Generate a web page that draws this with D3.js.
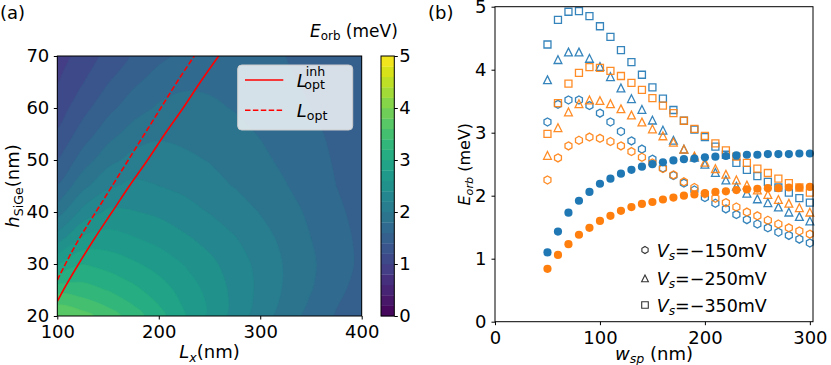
<!DOCTYPE html>
<html>
<head>
<meta charset="utf-8">
<script src="https://cdn.jsdelivr.net/npm/d3@7"></script>
<style>
body { margin: 0; background: #fff; }
svg text { font-family: "DejaVu Sans", sans-serif; fill: #000; }
</style>
</head>
<body>
<svg id="fig" width="831" height="365"></svg>
<script>
// ---------- panel (a): Eorb map (meV), rows = hSiGe, columns = Lx ----------
var lxGrid = [100, 125, 150, 175, 200, 225, 250, 275, 300, 325, 350, 375, 400];
var hGrid = [20, 25, 30, 35, 40, 45, 50, 55, 60, 65, 70];
var eorbGrid = [
  [3.80, 3.68, 3.50, 3.30, 3.07, 2.82, 2.56, 2.32, 2.10, 1.90, 1.73, 1.58, 1.45],
  [3.32, 3.28, 3.19, 3.05, 2.90, 2.72, 2.54, 2.34, 2.15, 1.97, 1.81, 1.65, 1.52],
  [2.78, 3.00, 2.92, 2.83, 2.72, 2.59, 2.45, 2.30, 2.14, 1.98, 1.83, 1.69, 1.56],
  [2.29, 2.63, 2.68, 2.61, 2.53, 2.43, 2.33, 2.21, 2.08, 1.94, 1.80, 1.68, 1.55],
  [1.90, 2.26, 2.44, 2.41, 2.36, 2.28, 2.19, 2.10, 1.99, 1.88, 1.76, 1.64, 1.53],
  [1.61, 1.94, 2.17, 2.25, 2.20, 2.15, 2.07, 1.99, 1.91, 1.81, 1.71, 1.60, 1.50],
  [1.39, 1.69, 1.93, 2.07, 2.08, 2.04, 1.99, 1.92, 1.84, 1.76, 1.67, 1.58, 1.48],
  [1.23, 1.49, 1.72, 1.89, 1.97, 1.95, 1.91, 1.85, 1.79, 1.72, 1.64, 1.56, 1.47],
  [1.09, 1.33, 1.54, 1.71, 1.83, 1.87, 1.83, 1.79, 1.73, 1.67, 1.60, 1.53, 1.45],
  [0.99, 1.19, 1.39, 1.56, 1.69, 1.76, 1.77, 1.73, 1.69, 1.63, 1.57, 1.51, 1.43],
  [0.90, 1.08, 1.26, 1.42, 1.55, 1.65, 1.70, 1.68, 1.64, 1.60, 1.54, 1.48, 1.42]
];
var levelStep = 0.2;
var levelMax = 5;

// optimal Lx curves
var optInhH  = [22.8, 25, 30, 35, 40, 45, 50, 55, 60, 65, 70];
var optInhLx = [100, 106, 121, 137, 154, 171, 189, 206, 224, 241, 259];
var optH  = [26.9, 30, 35, 40, 45, 50, 55, 60, 65, 70];
var optLx = [100, 108, 122, 138, 154, 170, 186, 202, 218, 235];

var lxTicks = [100, 200, 300, 400];
var hTicks = [20, 30, 40, 50, 60, 70];
var cbTicks = [0, 1, 2, 3, 4, 5];

// ---------- panel (b): Eorb vs wsp ----------
var wsp = [50, 60, 70, 80, 90, 100, 110, 120, 130, 140, 150, 160, 170, 180, 190,
           200, 210, 220, 230, 240, 250, 260, 270, 280, 290, 300];
var blueFilled   = [1.10, 1.43, 1.73, 1.92, 2.06, 2.19, 2.27, 2.35, 2.41, 2.46, 2.50, 2.53, 2.56, 2.58, 2.59,
                    2.61, 2.62, 2.63, 2.64, 2.65, 2.65, 2.66, 2.66, 2.66, 2.67, 2.67];
var orangeFilled = [0.84, 1.06, 1.23, 1.38, 1.49, 1.60, 1.68, 1.76, 1.82, 1.87, 1.90, 1.94, 1.97, 2.00, 2.02,
                    2.04, 2.06, 2.07, 2.09, 2.10, 2.11, 2.12, 2.12, 2.13, 2.13, 2.14];
var blue150   = [3.17, 3.45, 3.52, 3.52, 3.43, 3.31, 3.17, 3.02, 2.87, 2.74, 2.58, 2.44, 2.32, 2.20, 2.09,
                 1.97, 1.88, 1.79, 1.70, 1.62, 1.55, 1.49, 1.42, 1.37, 1.31, 1.25];
var orange150 = [2.25, 2.60, 2.79, 2.88, 2.93, 2.91, 2.86, 2.79, 2.70, 2.61, 2.52, 2.43, 2.33, 2.22, 2.13,
                 2.03, 1.96, 1.89, 1.82, 1.74, 1.68, 1.61, 1.55, 1.49, 1.44, 1.39];
var blue250   = [3.84, 4.16, 4.28, 4.28, 4.18, 4.05, 3.89, 3.71, 3.54, 3.37, 3.20, 3.04, 2.88, 2.74, 2.61,
                 2.50, 2.37, 2.25, 2.15, 2.04, 1.95, 1.89, 1.82, 1.74, 1.67, 1.60];
var orange250 = [2.64, 3.08, 3.33, 3.46, 3.52, 3.51, 3.46, 3.38, 3.28, 3.17, 3.06, 2.95, 2.85, 2.74, 2.63,
                 2.53, 2.43, 2.34, 2.25, 2.17, 2.09, 2.02, 1.94, 1.88, 1.81, 1.74];
var blue350   = [4.40, 4.79, 4.92, 4.93, 4.85, 4.69, 4.52, 4.31, 4.12, 3.92, 3.72, 3.54, 3.36, 3.19, 3.05,
                 2.93, 2.78, 2.65, 2.52, 2.41, 2.31, 2.22, 2.13, 2.05, 1.96, 1.89];
var orange350 = [2.98, 3.47, 3.78, 3.95, 4.04, 4.03, 3.98, 3.90, 3.79, 3.68, 3.55, 3.43, 3.31, 3.19, 3.06,
                 2.95, 2.83, 2.72, 2.62, 2.52, 2.43, 2.36, 2.27, 2.20, 2.13, 2.05];
var vsLabels = ['150', '250', '350'];
var wTicks = [0, 100, 200, 300];
var eTicks = [0, 1, 2, 3, 4, 5];

var blue = '#1f77b4', orange = '#ff7f0e';
var FS = 18;

var svg = d3.select('#fig');

// append text made of plain / italic / subscript pieces
function richText(sel, fs, parts) {
  var shift = 0;
  parts.forEach(function(p) {
    var t = sel.append('tspan').text(p.t);
    var target = p.sub ? fs * 0.2 : 0;
    if (target - shift !== 0) t.attr('dy', target - shift);
    shift = target;
    if (p.sub) t.attr('font-size', fs * 0.7);
    if (p.it) t.attr('font-style', 'italic');
  });
  return sel;
}

function styleAxis(g, fs) {
  g.attr('font-family', '"DejaVu Sans", sans-serif').attr('font-size', fs);
  g.selectAll('.domain').remove();
  g.selectAll('.tick line').attr('stroke', '#000').attr('stroke-width', 1);
  g.selectAll('.tick text').attr('fill', '#000');
}
var intFmt = d3.format('d');

// ================= panel (a) =================
var xa = d3.scaleLinear().domain([100, 400]).range([57.3, 361.7]);
var ya = d3.scaleLinear().domain([20, 70]).range([316, 56]);

svg.append('clipPath').attr('id', 'clipA')
  .append('rect')
    .attr('x', xa(100)).attr('y', ya(70))
    .attr('width', xa(400) - xa(100)).attr('height', ya(20) - ya(70));

var nx = lxGrid.length, ny = hGrid.length;
var flat = [];
eorbGrid.forEach(function(row) { row.forEach(function(v) { flat.push(v); }); });

var levels = d3.range(0, levelMax, levelStep).map(function(d) { return +d.toFixed(2); });
var bandColor = function(lo) { return d3.interpolateViridis((lo + levelStep / 2) / levelMax); };

// grid index -> pixel
var gx = d3.scaleLinear().domain([0.5, nx - 0.5]).range([xa(lxGrid[0]), xa(lxGrid[nx - 1])]);
var gy = d3.scaleLinear().domain([0.5, ny - 0.5]).range([ya(hGrid[0]), ya(hGrid[ny - 1])]);

var contours = d3.contours().size([nx, ny]).smooth(true).thresholds(levels)(flat);

// draw each ring as a smooth closed curve
var ringLine = d3.line().curve(d3.curveCatmullRomClosed.alpha(0.5));
function contourPath(mp) {
  var d = '';
  mp.coordinates.forEach(function(poly) {
    poly.forEach(function(ring) {
      var pts = ring.slice(0, ring.length - 1).map(function(p) { return [gx(p[0]), gy(p[1])]; });
      if (pts.length > 2) d += ringLine(pts);
    });
  });
  return d;
}

svg.append('g')
  .attr('clip-path', 'url(#clipA)')
  .selectAll('path')
  .data(contours)
  .enter()
  .append('path')
    .attr('d', contourPath)
    .attr('fill', function(d) { return bandColor(d.value); })
    .attr('stroke', function(d) { return bandColor(d.value); })
    .attr('stroke-width', 0.6);

// red optimum lines
var lineA = d3.line()
  .x(function(d) { return xa(d[0]); })
  .y(function(d) { return ya(d[1]); })
  .curve(d3.curveMonotoneY);

var lineGroup = svg.append('g').attr('clip-path', 'url(#clipA)');
lineGroup.append('path')
  .datum(optInhLx.map(function(v, i) { return [v, optInhH[i]]; }))
  .attr('d', lineA)
  .attr('fill', 'none').attr('stroke', 'red').attr('stroke-width', 1.6);
lineGroup.append('path')
  .datum(optLx.map(function(v, i) { return [v, optH[i]]; }))
  .attr('d', lineA)
  .attr('fill', 'none').attr('stroke', 'red').attr('stroke-width', 1.6)
  .attr('stroke-dasharray', '5.5,2.4');

// axes frame and ticks
svg.append('rect')
  .attr('x', xa(100)).attr('y', ya(70))
  .attr('width', xa(400) - xa(100)).attr('height', ya(20) - ya(70))
  .attr('fill', 'none').attr('stroke', '#000').attr('stroke-width', 1);

var axA1 = svg.append('g').attr('transform', 'translate(0,' + ya(20) + ')')
  .call(d3.axisBottom(xa).tickValues(lxTicks).tickFormat(intFmt)
    .tickSize(3.5).tickPadding(6.2).tickSizeOuter(0));
styleAxis(axA1, FS);
var axA2 = svg.append('g').attr('transform', 'translate(' + xa(100) + ',0)')
  .call(d3.axisLeft(ya).tickValues(hTicks).tickFormat(intFmt)
    .tickSize(3.5).tickPadding(4.5).tickSizeOuter(0));
styleAxis(axA2, FS);

// legend (a)
var legA = svg.append('g');
legA.append('rect')
  .attr('x', 237.7).attr('y', 65).attr('width', 115).attr('height', 65)
  .attr('rx', 4).attr('ry', 4)
  .attr('fill', '#ffffff').attr('fill-opacity', 0.8)
  .attr('stroke', '#cccccc').attr('stroke-width', 1);
legA.append('line')
  .attr('x1', 245).attr('x2', 283.3).attr('y1', 80).attr('y2', 80)
  .attr('stroke', 'red').attr('stroke-width', 1.6);
legA.append('line')
  .attr('x1', 245).attr('x2', 283.3).attr('y1', 110.3).attr('y2', 110.3)
  .attr('stroke', 'red').attr('stroke-width', 1.6)
  .attr('stroke-dasharray', '5.5,2.4');

// L with stacked super/subscript, kept in one text element
var l1 = legA.append('text').attr('x', 296.7).attr('y', 86.7).attr('font-size', FS);
l1.append('tspan').attr('font-style', 'italic').text('L');
var sup = l1.append('tspan').attr('font-size', FS * 0.7).attr('dx', -1).attr('dy', -10.7).text('inh');
var supW = sup.node().getComputedTextLength();
l1.append('tspan').attr('font-size', FS * 0.7).attr('dx', -supW - 1.5).attr('dy', 13.3).text('opt');

richText(legA.append('text').attr('x', 296.7).attr('y', 116.7).attr('font-size', FS),
  FS, [{t: 'L', it: true}, {t: 'opt', sub: true}]);

// axis labels (a)
richText(svg.append('text')
  .attr('x', (xa(100) + xa(400)) / 2).attr('y', 358)
  .attr('text-anchor', 'middle').attr('font-size', FS),
  FS, [{t: 'L', it: true}, {t: 'x', it: true, sub: true}, {t: '(nm)'}]);

richText(svg.append('text')
  .attr('transform', 'translate(19,' + (ya(20) + ya(70)) / 2 + ') rotate(-90)')
  .attr('text-anchor', 'middle').attr('font-size', FS),
  FS, [{t: 'h', it: true}, {t: 'SiGe', sub: true}, {t: '(nm)'}]);

svg.append('text').attr('x', 0).attr('y', 19).attr('font-size', FS).text('(a)');

// colorbar
var cb = d3.scaleLinear().domain([0, levelMax]).range([316, 56]);
var cbX = 381, cbW = 13.3;
svg.append('g').selectAll('rect')
  .data(levels)
  .enter()
  .append('rect')
    .attr('x', cbX)
    .attr('y', function(d) { return cb(d + levelStep); })
    .attr('width', cbW)
    .attr('height', function(d) { return cb(d) - cb(d + levelStep) + 0.3; })
    .attr('fill', function(d) { return bandColor(d); });
svg.append('rect')
  .attr('x', cbX).attr('y', cb(levelMax)).attr('width', cbW).attr('height', cb(0) - cb(levelMax))
  .attr('fill', 'none').attr('stroke', '#000').attr('stroke-width', 1);
var axCb = svg.append('g').attr('transform', 'translate(' + (cbX + cbW) + ',0)')
  .call(d3.axisRight(cb).tickValues(cbTicks).tickFormat(intFmt)
    .tickSize(3.5).tickPadding(1.5).tickSizeOuter(0));
styleAxis(axCb, FS);

richText(svg.append('text').attr('x', 310).attr('y', 37).attr('font-size', 17),
  17, [{t: 'E', it: true}, {t: 'orb', sub: true}, {t: ' (meV)'}]);

// ================= panel (b) =================
var xb = d3.scaleLinear().domain([0, 303]).range([495, 813]);
var yb = d3.scaleLinear().domain([0, 5]).range([321.7, 6.7]);

function hexPath(r) {
  var pts = d3.range(6).map(function(k) {
    var a = -Math.PI / 2 + k * Math.PI / 3;
    return [r * Math.cos(a), r * Math.sin(a)];
  });
  return 'M' + pts.join('L') + 'Z';
}
function triPath(r) {
  return 'M0,' + (-r) + 'L' + r + ',' + r + 'L' + (-r) + ',' + r + 'Z';
}
function sqPath(r) {
  return 'M' + (-r) + ',' + (-r) + 'H' + r + 'V' + r + 'H' + (-r) + 'Z';
}
var markerPaths = { hex: hexPath(4.0), tri: triPath(3.9), sq: sqPath(3.5) };

var plotB = svg.append('g');
function drawOpen(values, shape, color) {
  plotB.append('g').selectAll('path')
    .data(values)
    .enter()
    .append('path')
      .attr('transform', function(d, i) { return 'translate(' + xb(wsp[i]) + ',' + yb(d) + ')'; })
      .attr('d', markerPaths[shape])
      .attr('fill', 'none')
      .attr('stroke', color)
      .attr('stroke-width', 1.3)
      .attr('stroke-opacity', 0.9);
}
function drawFilled(values, color) {
  plotB.append('g').selectAll('circle')
    .data(values)
    .enter()
    .append('circle')
      .attr('cx', function(d, i) { return xb(wsp[i]); })
      .attr('cy', function(d) { return yb(d); })
      .attr('r', 4.1)
      .attr('fill', color);
}
drawOpen(blue150, 'hex', blue);
drawOpen(orange150, 'hex', orange);
drawOpen(blue250, 'tri', blue);
drawOpen(orange250, 'tri', orange);
drawOpen(blue350, 'sq', blue);
drawOpen(orange350, 'sq', orange);
drawFilled(blueFilled, blue);
drawFilled(orangeFilled, orange);

svg.append('rect')
  .attr('x', xb(0)).attr('y', yb(5))
  .attr('width', xb(303) - xb(0)).attr('height', yb(0) - yb(5))
  .attr('fill', 'none').attr('stroke', '#000').attr('stroke-width', 1);

var axB1 = svg.append('g').attr('transform', 'translate(0,' + yb(0) + ')')
  .call(d3.axisBottom(xb).tickValues(wTicks).tickFormat(intFmt)
    .tickSize(3.5).tickPadding(6).tickSizeOuter(0));
styleAxis(axB1, FS);
var axB2 = svg.append('g').attr('transform', 'translate(' + xb(0) + ',0)')
  .call(d3.axisLeft(yb).tickValues(eTicks).tickFormat(intFmt)
    .tickSize(3.5).tickPadding(5).tickSizeOuter(0));
styleAxis(axB2, FS);

// legend (b)
var legRowsY = [250, 278.3, 305];
var legShapes = ['hex', 'tri', 'sq'];
var legB = svg.append('g');
legShapes.forEach(function(s, i) {
  legB.append('path')
    .attr('transform', 'translate(645,' + legRowsY[i] + ')')
    .attr('d', s === 'hex' ? hexPath(3.6) : (s === 'tri' ? triPath(3.4) : sqPath(3.3)))
    .attr('fill', 'none').attr('stroke', '#333').attr('stroke-width', 1.1);
  richText(legB.append('text').attr('x', 656.7).attr('y', legRowsY[i] + 6.5).attr('font-size', 17.5),
    17.5, [{t: 'V', it: true}, {t: 's', it: true, sub: true}, {t: '=\u2212' + vsLabels[i] + 'mV'}]);
});

richText(svg.append('text')
  .attr('x', (xb(0) + xb(303)) / 2).attr('y', 359.5)
  .attr('text-anchor', 'middle').attr('font-size', FS),
  FS, [{t: 'w', it: true}, {t: 'sp', it: true, sub: true}, {t: ' (nm)'}]);

richText(svg.append('text')
  .attr('transform', 'translate(470,' + (yb(0) + yb(5)) / 2 + ') rotate(-90)')
  .attr('text-anchor', 'middle').attr('font-size', 16),
  16, [{t: 'E', it: true}, {t: 'orb', it: true, sub: true}, {t: ' (meV)'}]);

svg.append('text').attr('x', 428).attr('y', 19).attr('font-size', FS).text('(b)');
</script>
</body>
</html>
